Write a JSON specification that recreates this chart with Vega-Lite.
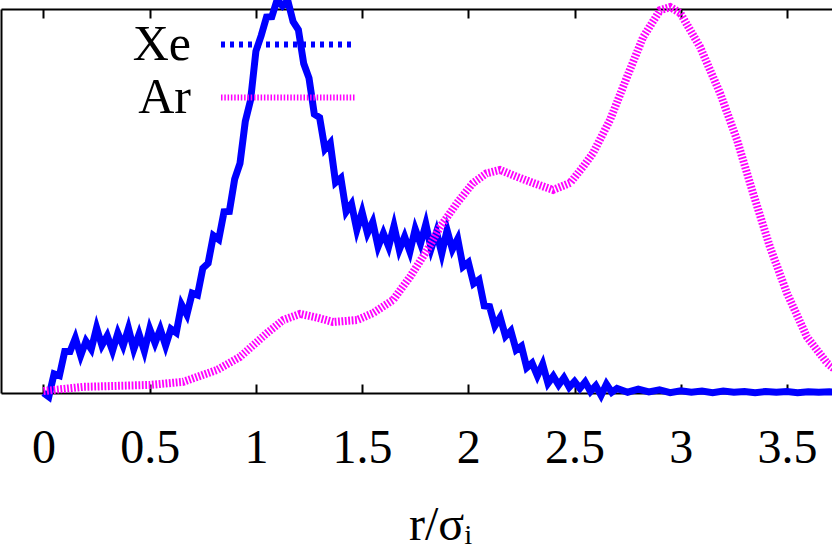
{
  "$schema": "https://vega.github.io/schema/vega-lite/v6.json",
  "width": 831,
  "height": 384,
  "autosize": {"type": "none"},
  "padding": {"left": 1, "top": 9, "right": 0, "bottom": 156},
  "background": "white",
  "config": {
    "view": {"stroke": null},
    "font": "Liberation Serif, Times New Roman, serif",
    "legend": {
      "title": null, "orient": "none", "padding": 0,
      "symbolType": "stroke", "symbolSize": 18225, "symbolStrokeWidth": 6, "symbolOffset": 0,
      "labelFont": "Liberation Serif", "labelFontSize": 50, "labelColor": "black", "labelAlign": "right", "labelOffset": -168, "labelLimit": 500
    }
  },
  "data": {"values": [
    {"s":"Xe","r":0.000,"g":0.0},{"s":"Xe","r":0.025,"g":-0.01},{"s":"Xe","r":0.05,"g":0.05},{"s":"Xe","r":0.075,"g":0.045},
    {"s":"Xe","r":0.1,"g":0.108},{"s":"Xe","r":0.125,"g":0.108},{"s":"Xe","r":0.15,"g":0.143},{"s":"Xe","r":0.175,"g":0.097},
    {"s":"Xe","r":0.2,"g":0.135},{"s":"Xe","r":0.225,"g":0.114},{"s":"Xe","r":0.25,"g":0.17},{"s":"Xe","r":0.275,"g":0.124},
    {"s":"Xe","r":0.3,"g":0.149},{"s":"Xe","r":0.325,"g":0.11},{"s":"Xe","r":0.35,"g":0.156},{"s":"Xe","r":0.375,"g":0.123},
    {"s":"Xe","r":0.4,"g":0.168},{"s":"Xe","r":0.425,"g":0.114},{"s":"Xe","r":0.45,"g":0.153},{"s":"Xe","r":0.475,"g":0.109},
    {"s":"Xe","r":0.5,"g":0.167},{"s":"Xe","r":0.525,"g":0.13},{"s":"Xe","r":0.55,"g":0.166},{"s":"Xe","r":0.575,"g":0.123},
    {"s":"Xe","r":0.6,"g":0.167},{"s":"Xe","r":0.625,"g":0.157},{"s":"Xe","r":0.65,"g":0.23},{"s":"Xe","r":0.675,"g":0.204},
    {"s":"Xe","r":0.7,"g":0.26},{"s":"Xe","r":0.725,"g":0.255},{"s":"Xe","r":0.75,"g":0.325},{"s":"Xe","r":0.775,"g":0.338},
    {"s":"Xe","r":0.8,"g":0.41},{"s":"Xe","r":0.825,"g":0.4},{"s":"Xe","r":0.85,"g":0.472},{"s":"Xe","r":0.875,"g":0.473},
    {"s":"Xe","r":0.9,"g":0.557},{"s":"Xe","r":0.925,"g":0.598},{"s":"Xe","r":0.95,"g":0.707},{"s":"Xe","r":0.975,"g":0.763},
    {"s":"Xe","r":1.0,"g":0.89},{"s":"Xe","r":1.025,"g":0.931},{"s":"Xe","r":1.05,"g":0.979},{"s":"Xe","r":1.075,"g":0.98},
    {"s":"Xe","r":1.1,"g":1.024},{"s":"Xe","r":1.125,"g":1.008},{"s":"Xe","r":1.15,"g":1.022},{"s":"Xe","r":1.175,"g":0.967},
    {"s":"Xe","r":1.2,"g":0.946},{"s":"Xe","r":1.225,"g":0.858},{"s":"Xe","r":1.25,"g":0.82},{"s":"Xe","r":1.275,"g":0.726},
    {"s":"Xe","r":1.3,"g":0.717},{"s":"Xe","r":1.325,"g":0.635},{"s":"Xe","r":1.35,"g":0.651},{"s":"Xe","r":1.375,"g":0.548},
    {"s":"Xe","r":1.4,"g":0.56},{"s":"Xe","r":1.425,"g":0.472},{"s":"Xe","r":1.45,"g":0.492},{"s":"Xe","r":1.475,"g":0.425},
    {"s":"Xe","r":1.5,"g":0.471},{"s":"Xe","r":1.525,"g":0.416},{"s":"Xe","r":1.55,"g":0.445},{"s":"Xe","r":1.575,"g":0.381},
    {"s":"Xe","r":1.6,"g":0.416},{"s":"Xe","r":1.625,"g":0.381},{"s":"Xe","r":1.65,"g":0.435},{"s":"Xe","r":1.675,"g":0.373},
    {"s":"Xe","r":1.7,"g":0.407},{"s":"Xe","r":1.725,"g":0.368},{"s":"Xe","r":1.75,"g":0.427},{"s":"Xe","r":1.775,"g":0.389},
    {"s":"Xe","r":1.8,"g":0.44},{"s":"Xe","r":1.825,"g":0.376},{"s":"Xe","r":1.85,"g":0.419},{"s":"Xe","r":1.875,"g":0.363},
    {"s":"Xe","r":1.9,"g":0.424},{"s":"Xe","r":1.925,"g":0.374},{"s":"Xe","r":1.95,"g":0.401},{"s":"Xe","r":1.975,"g":0.329},
    {"s":"Xe","r":2.0,"g":0.34},{"s":"Xe","r":2.025,"g":0.285},{"s":"Xe","r":2.05,"g":0.295},{"s":"Xe","r":2.075,"g":0.227},
    {"s":"Xe","r":2.1,"g":0.225},{"s":"Xe","r":2.125,"g":0.175},{"s":"Xe","r":2.15,"g":0.197},{"s":"Xe","r":2.175,"g":0.148},
    {"s":"Xe","r":2.2,"g":0.162},{"s":"Xe","r":2.225,"g":0.112},{"s":"Xe","r":2.25,"g":0.122},{"s":"Xe","r":2.275,"g":0.066},
    {"s":"Xe","r":2.3,"g":0.078},{"s":"Xe","r":2.325,"g":0.045},{"s":"Xe","r":2.35,"g":0.075},{"s":"Xe","r":2.375,"g":0.025},
    {"s":"Xe","r":2.4,"g":0.044},{"s":"Xe","r":2.425,"g":0.021},{"s":"Xe","r":2.45,"g":0.04},{"s":"Xe","r":2.475,"g":0.015},
    {"s":"Xe","r":2.5,"g":0.03},{"s":"Xe","r":2.525,"g":0.012},{"s":"Xe","r":2.55,"g":0.029},{"s":"Xe","r":2.575,"g":0.004},
    {"s":"Xe","r":2.6,"g":0.019},{"s":"Xe","r":2.625,"g":-0.006},{"s":"Xe","r":2.65,"g":0.023},{"s":"Xe","r":2.675,"g":0.002},
    {"s":"Xe","r":2.7,"g":0.012},{"s":"Xe","r":2.75,"g":0.002},{"s":"Xe","r":2.8,"g":0.01},{"s":"Xe","r":2.85,"g":0.003},
    {"s":"Xe","r":2.9,"g":0.008},{"s":"Xe","r":2.95,"g":0.001},{"s":"Xe","r":3.0,"g":0.006},{"s":"Xe","r":3.05,"g":0.002},
    {"s":"Xe","r":3.1,"g":0.005},{"s":"Xe","r":3.15,"g":0.001},{"s":"Xe","r":3.2,"g":0.005},{"s":"Xe","r":3.25,"g":0.002},
    {"s":"Xe","r":3.3,"g":0.004},{"s":"Xe","r":3.35,"g":0.001},{"s":"Xe","r":3.4,"g":0.004},{"s":"Xe","r":3.45,"g":0.002},
    {"s":"Xe","r":3.5,"g":0.004},{"s":"Xe","r":3.55,"g":0.001},{"s":"Xe","r":3.6,"g":0.003},{"s":"Xe","r":3.65,"g":0.002},
    {"s":"Xe","r":3.7,"g":0.003},{"s":"Xe","r":3.75,"g":0.002},
    {"s":"Ar","r":0.0,"g":0.005},{"s":"Ar","r":0.186,"g":0.016},{"s":"Ar","r":0.501,"g":0.021},{"s":"Ar","r":0.657,"g":0.029},
    {"s":"Ar","r":0.817,"g":0.06},{"s":"Ar","r":0.925,"g":0.094},{"s":"Ar","r":1.052,"g":0.156},{"s":"Ar","r":1.128,"g":0.19},
    {"s":"Ar","r":1.208,"g":0.206},{"s":"Ar","r":1.29,"g":0.196},{"s":"Ar","r":1.363,"g":0.185},{"s":"Ar","r":1.476,"g":0.19},
    {"s":"Ar","r":1.551,"g":0.208},{"s":"Ar","r":1.645,"g":0.242},{"s":"Ar","r":1.725,"g":0.302},{"s":"Ar","r":1.806,"g":0.372},
    {"s":"Ar","r":1.867,"g":0.432},{"s":"Ar","r":1.947,"g":0.495},{"s":"Ar","r":2.022,"g":0.547},{"s":"Ar","r":2.085,"g":0.572},
    {"s":"Ar","r":2.149,"g":0.581},{"s":"Ar","r":2.229,"g":0.563},{"s":"Ar","r":2.305,"g":0.547},{"s":"Ar","r":2.399,"g":0.529},
    {"s":"Ar","r":2.479,"g":0.547},{"s":"Ar","r":2.54,"g":0.589},{"s":"Ar","r":2.587,"g":0.625},{"s":"Ar","r":2.667,"g":0.711},
    {"s":"Ar","r":2.747,"g":0.823},{"s":"Ar","r":2.823,"g":0.927},{"s":"Ar","r":2.903,"g":0.997},{"s":"Ar","r":2.95,"g":1.005},
    {"s":"Ar","r":2.997,"g":0.99},{"s":"Ar","r":3.091,"g":0.901},{"s":"Ar","r":3.185,"g":0.781},{"s":"Ar","r":3.265,"g":0.659},
    {"s":"Ar","r":3.34,"g":0.521},{"s":"Ar","r":3.42,"g":0.38},{"s":"Ar","r":3.5,"g":0.26},{"s":"Ar","r":3.594,"g":0.146},
    {"s":"Ar","r":3.689,"g":0.078},{"s":"Ar","r":3.75,"g":0.05}
  ]},
  "encoding": {
    "x": {"field": "r", "type": "quantitative", "scale": {"domain": [-0.2, 3.712], "nice": false, "zero": false}},
    "y": {"field": "g", "type": "quantitative", "scale": {"domain": [0, 1], "nice": false},
      "axis": {"orient": "left", "ticks": false, "labels": false, "title": null, "grid": false, "domainColor": "black", "domainWidth": 2}}
  },
  "layer": [
    {
      "transform": [{"filter": "datum.s === 'Xe'"}],
      "mark": {"type": "line", "strokeWidth": 7, "strokeJoin": "miter", "strokeMiterLimit": 6, "clip": false},
      "encoding": {
        "x": {"field": "r", "type": "quantitative", "scale": {"domain": [-0.2, 3.712], "nice": false, "zero": false},
          "axis": {"orient": "bottom", "values": [0, 0.5, 1, 1.5, 2, 2.5, 3, 3.5], "labelExpr": "'' + datum.value",
            "grid": false, "domainColor": "black", "domainWidth": 2, "tickColor": "black", "tickWidth": 2, "tickSize": -9,
            "labelFont": "Liberation Serif", "labelFontSize": 48, "labelColor": "black", "labelBaseline": "alphabetic", "labelPadding": 78, "labelDx": 5,
            "title": "r/σᵢ", "titleFont": "Liberation Serif", "titleFontSize": 48, "titleFontWeight": "normal", "titleColor": "black", "titlePadding": 29,
            "titleX": 439, "titleAlign": "center"}},
        "color": {"field": "s", "type": "nominal", "scale": {"domain": ["Xe"], "range": ["#0000ff"]},
          "legend": {"legendX": 217, "legendY": -35,
            "encode": {"symbols": {"update": {"strokeDash": {"value": [4, 5]}, "strokeWidth": {"value": 6}}}}}}
      }
    },
    {
      "transform": [{"filter": "datum.s === 'Ar'"}],
      "mark": {"type": "line", "strokeWidth": 8, "strokeDash": [1.8, 1.6], "clip": false},
      "encoding": {
        "x": {"field": "r", "type": "quantitative", "scale": {"domain": [-0.2, 3.712], "nice": false, "zero": false},
          "axis": {"orient": "top", "values": [0, 0.5, 1, 1.5, 2, 2.5, 3, 3.5], "labels": false, "title": null,
            "grid": false, "domainColor": "black", "domainWidth": 2, "tickColor": "black", "tickWidth": 2, "tickSize": -9}},
        "color": {"field": "s", "type": "nominal", "scale": {"domain": ["Ar"], "range": ["#ff00ff"]},
          "legend": {"legendX": 217, "legendY": 18,
            "encode": {"symbols": {"update": {"strokeDash": {"value": [1.5, 1.8]}, "strokeWidth": {"value": 6}}}}}}
      }
    }
  ],
  "resolve": {"axis": {"x": "independent"}, "scale": {"color": "independent"}}
}
